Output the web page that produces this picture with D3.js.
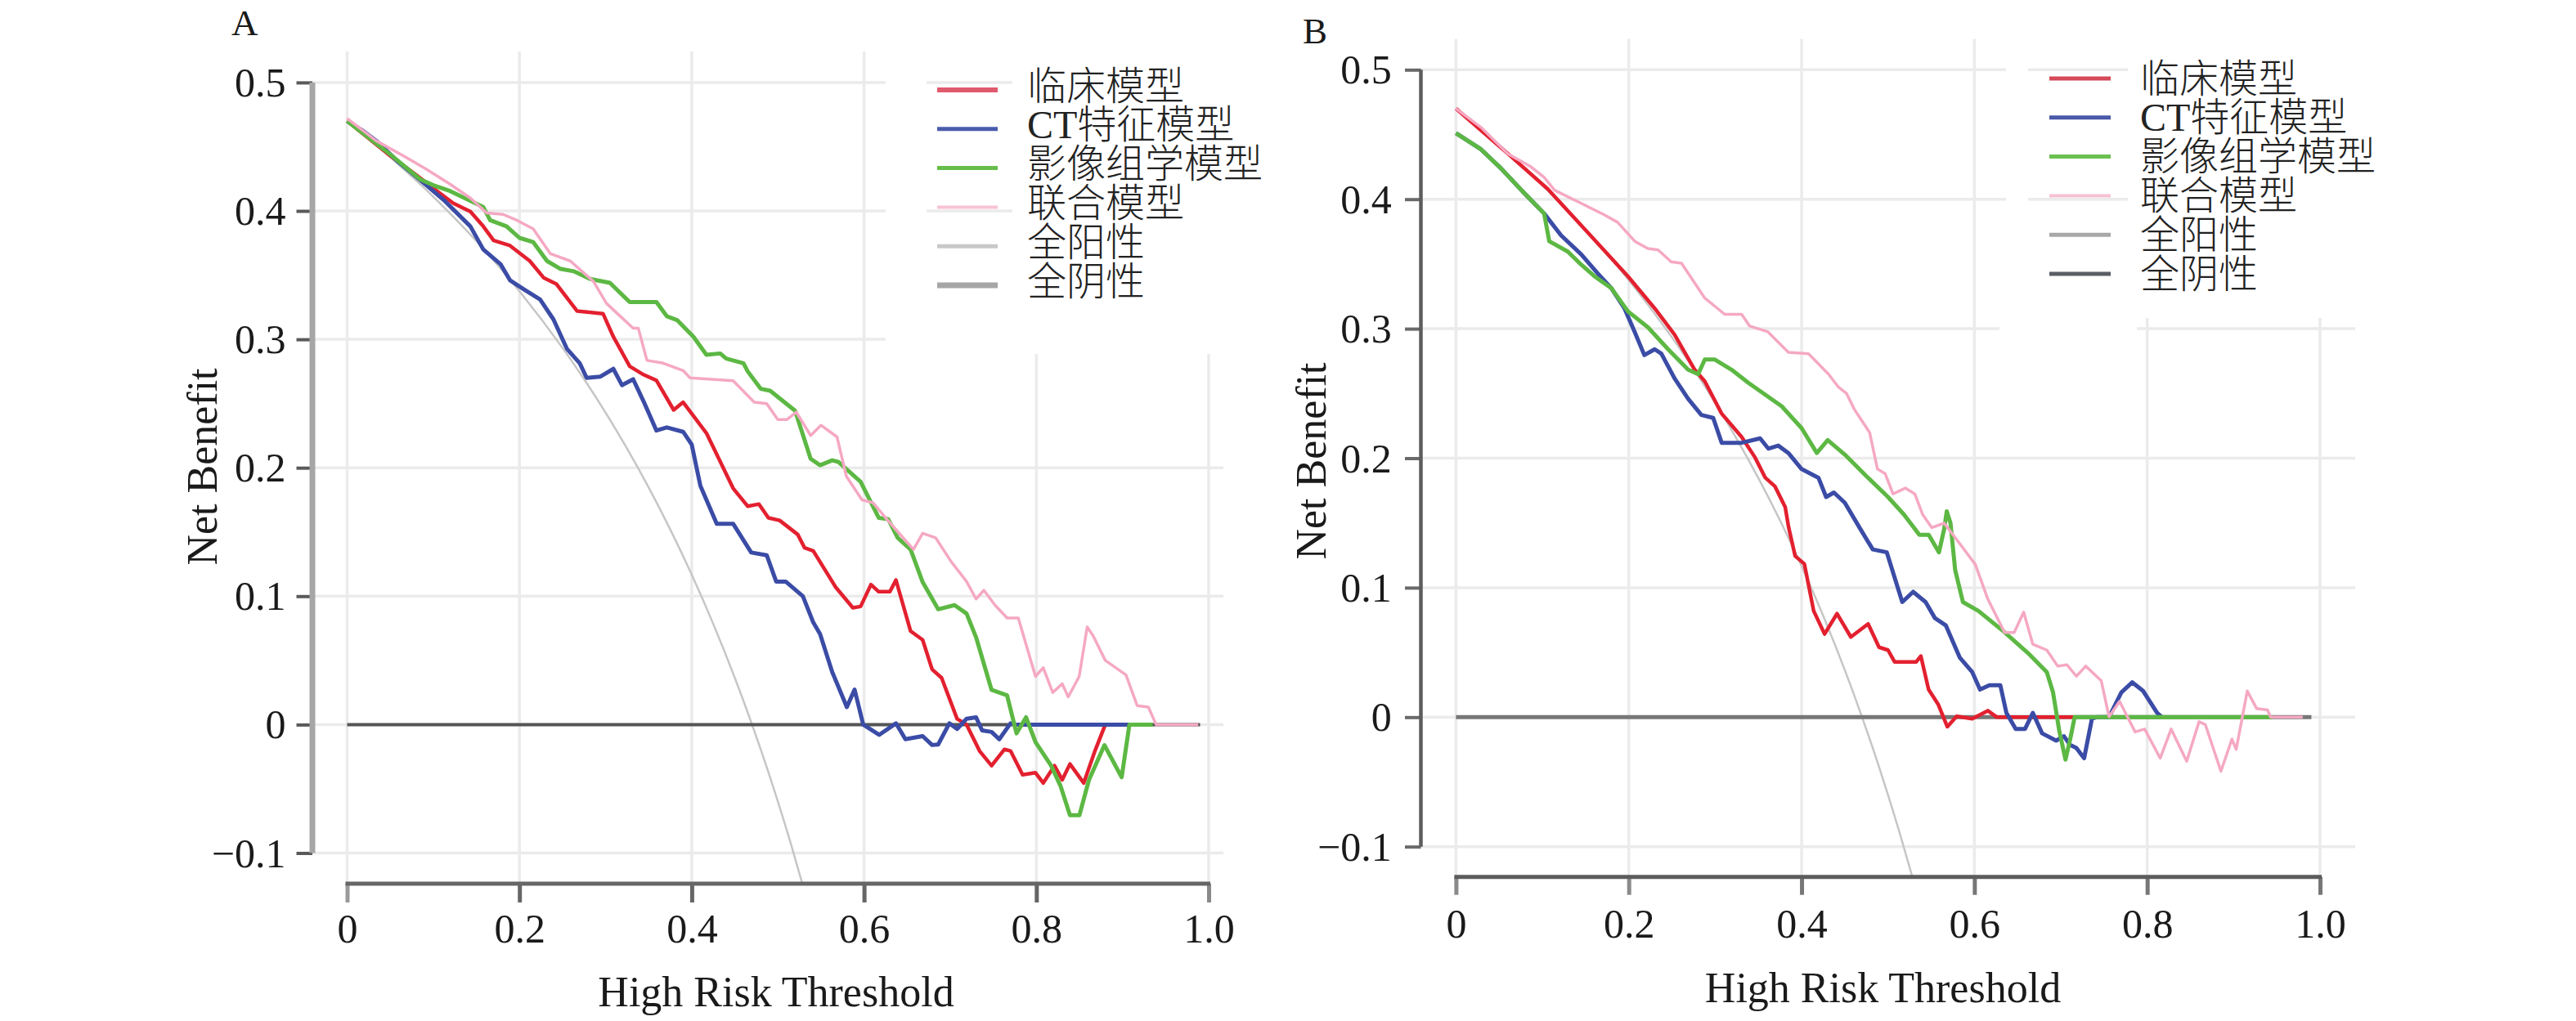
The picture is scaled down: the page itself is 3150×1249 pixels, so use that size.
<!DOCTYPE html>
<html><head><meta charset="utf-8">
<script src="https://cdnjs.cloudflare.com/ajax/libs/d3/7.8.5/d3.min.js"></script>
<style>html,body{margin:0;padding:0;background:#fff;} svg{display:block;}</style>
</head><body><svg id="chart" width="3150" height="1249"></svg>
<script>
// ---------- data ----------
const seriesNames = ["临床模型","CT特征模型","影像组学模型","联合模型","全阳性","全阴性"];
const xTickValues = [0,0.2,0.4,0.6,0.8,1.0];
const xTickLabels = ["0","0.2","0.4","0.6","0.8","1.0"];
const yTickValues = [-0.1,0,0.1,0.2,0.3,0.4,0.5];
const yTickLabels = ["\u22120.1","0","0.1","0.2","0.3","0.4","0.5"];
const xTitle = "High Risk Threshold";
const yTitle = "Net Benefit";
const panelLabels = ["A","B"];

// treat all (全阳性), same in both panels
const treatAll = [[0,0.470],[0.05,0.442],[0.10,0.411],[0.15,0.3765],[0.20,0.3375],[0.25,0.2933],[0.275,0.269],[0.30,0.2429],[0.325,0.2148],[0.35,0.1846],[0.375,0.152],[0.40,0.1167],[0.425,0.0783],[0.45,0.0364],[0.47,0],[0.49,-0.0392],[0.50,-0.060],[0.515,-0.0928],[0.528,-0.123]];
// treat none (全阴性)
const treatNone = [[0,0],[0.99,0]];

// Panel A
const aClinical = [[0,0.470],[0.05,0.443],[0.092,0.422],[0.100,0.4177],[0.123,0.406],[0.143,0.3995],[0.158,0.388],[0.170,0.377],[0.189,0.373],[0.212,0.361],[0.228,0.348],[0.243,0.343],[0.267,0.322],[0.297,0.320],[0.309,0.302],[0.328,0.279],[0.344,0.2725],[0.359,0.268],[0.379,0.245],[0.390,0.251],[0.417,0.227],[0.448,0.184],[0.465,0.170],[0.478,0.1717],[0.489,0.161],[0.502,0.159],[0.523,0.148],[0.531,0.1376],[0.541,0.1353],[0.567,0.107],[0.587,0.091],[0.596,0.092],[0.608,0.109],[0.617,0.1035],[0.630,0.1035],[0.637,0.1126],[0.654,0.0728],[0.668,0.066],[0.679,0.043],[0.690,0.0364],[0.708,0.0045],[0.719,0],[0.734,-0.0205],[0.748,-0.032],[0.763,-0.0193],[0.770,-0.0205],[0.784,-0.039],[0.799,-0.0375],[0.808,-0.0455],[0.821,-0.032],[0.830,-0.043],[0.839,-0.0307],[0.855,-0.0455],[0.868,-0.0205],[0.880,0]];
const aCT = [[0,0.470],[0.017,0.463],[0.034,0.4545],[0.058,0.439],[0.092,0.420],[0.112,0.4086],[0.143,0.388],[0.158,0.370],[0.178,0.3586],[0.189,0.346],[0.205,0.339],[0.224,0.331],[0.2395,0.3155],[0.255,0.2927],[0.270,0.2814],[0.278,0.270],[0.294,0.271],[0.309,0.277],[0.319,0.2643],[0.332,0.2689],[0.344,0.2518],[0.359,0.229],[0.371,0.2314],[0.390,0.228],[0.400,0.218],[0.410,0.186],[0.429,0.1564],[0.448,0.1564],[0.469,0.134],[0.487,0.1319],[0.498,0.1114],[0.509,0.1114],[0.529,0.100],[0.541,0.0796],[0.549,0.0705],[0.563,0.041],[0.580,0.0136],[0.589,0.0273],[0.599,0],[0.6175,-0.008],[0.637,0.001],[0.648,-0.0114],[0.668,-0.009],[0.679,-0.0159],[0.686,-0.0155],[0.699,0.001],[0.708,-0.0034],[0.719,0.0045],[0.730,0.0057],[0.737,-0.0045],[0.748,-0.0057],[0.757,-0.0114],[0.770,0.001],[0.775,0],[0.907,0]];
const aRadiomics = [[0,0.470],[0.05,0.444],[0.085,0.4245],[0.100,0.420],[0.1195,0.4155],[0.158,0.403],[0.166,0.3927],[0.185,0.388],[0.200,0.379],[0.216,0.3757],[0.232,0.361],[0.247,0.355],[0.263,0.353],[0.282,0.347],[0.305,0.344],[0.328,0.329],[0.359,0.329],[0.371,0.318],[0.383,0.315],[0.402,0.302],[0.417,0.288],[0.433,0.289],[0.440,0.285],[0.460,0.2814],[0.465,0.275],[0.480,0.2615],[0.491,0.260],[0.520,0.2444],[0.538,0.207],[0.549,0.202],[0.563,0.2058],[0.570,0.2046],[0.596,0.189],[0.617,0.161],[0.628,0.160],[0.639,0.1455],[0.654,0.1364],[0.668,0.111],[0.686,0.0898],[0.705,0.093],[0.719,0.0864],[0.730,0.068],[0.748,0.027],[0.766,0.0228],[0.777,-0.0068],[0.788,0.0057],[0.799,-0.0136],[0.817,-0.0318],[0.828,-0.0477],[0.839,-0.0705],[0.850,-0.0705],[0.861,-0.0432],[0.879,-0.016],[0.899,-0.041],[0.908,0],[0.935,0]];
const aCombined = [[0,0.472],[0.034,0.4545],[0.065,0.443],[0.092,0.4325],[0.119,0.421],[0.143,0.410],[0.162,0.3984],[0.181,0.3973],[0.197,0.3927],[0.216,0.386],[0.236,0.3666],[0.259,0.361],[0.286,0.345],[0.301,0.328],[0.332,0.3086],[0.338,0.3086],[0.348,0.2836],[0.367,0.2814],[0.390,0.2757],[0.398,0.270],[0.448,0.2677],[0.4725,0.251],[0.487,0.250],[0.4997,0.2376],[0.5106,0.2376],[0.5214,0.2433],[0.538,0.2251],[0.550,0.2331],[0.5686,0.224],[0.5795,0.1933],[0.5976,0.175],[0.6103,0.1728],[0.625,0.161],[0.6393,0.150],[0.6574,0.1364],[0.668,0.149],[0.683,0.1455],[0.701,0.127],[0.719,0.1114],[0.730,0.0978],[0.739,0.1046],[0.752,0.093],[0.766,0.083],[0.779,0.083],[0.799,0.0375],[0.808,0.0443],[0.819,0.025],[0.830,0.0318],[0.837,0.0216],[0.8497,0.0375],[0.859,0.076],[0.866,0.069],[0.880,0.050],[0.904,0.0387],[0.917,0.0148],[0.930,0.0136],[0.939,0],[0.988,0]];

// Panel B
const bClinical = [[0,0.470],[0.0637,0.433],[0.106,0.408],[0.1526,0.3743],[0.199,0.3405],[0.230,0.3157],[0.253,0.2954],[0.2763,0.2683],[0.288,0.2593],[0.3074,0.2345],[0.3306,0.2164],[0.346,0.2007],[0.358,0.1849],[0.3693,0.1781],[0.381,0.1623],[0.385,0.1466],[0.3925,0.1245],[0.4032,0.1183],[0.414,0.082],[0.4266,0.0642],[0.441,0.0799],[0.457,0.0619],[0.477,0.072],[0.4896,0.054],[0.500,0.0518],[0.5076,0.0427],[0.5327,0.0427],[0.538,0.0472],[0.547,0.0213],[0.558,0.010],[0.5687,-0.0074],[0.5795,0.0006],[0.5975,-0.0012],[0.6155,0.005],[0.626,0],[0.716,0]];
const bCT = [[0,0.451],[0.029,0.4385],[0.052,0.4239],[0.079,0.4047],[0.102,0.389],[0.1217,0.372],[0.1449,0.3574],[0.164,0.3427],[0.1797,0.3314],[0.195,0.3157],[0.2068,0.2976],[0.218,0.2796],[0.230,0.2841],[0.2377,0.2807],[0.253,0.2616],[0.2687,0.2458],[0.284,0.2334],[0.2977,0.2311],[0.3075,0.2119],[0.3306,0.2119],[0.352,0.2153],[0.3615,0.2074],[0.373,0.2097],[0.3847,0.204],[0.400,0.1916],[0.4195,0.1849],[0.4284,0.170],[0.4374,0.1735],[0.450,0.1656],[0.468,0.1453],[0.4824,0.1295],[0.4986,0.1273],[0.5165,0.0889],[0.5291,0.0968],[0.5435,0.0889],[0.5543,0.0765],[0.567,0.0708],[0.583,0.0461],[0.5975,0.0348],[0.6065,0.0213],[0.6173,0.0247],[0.630,0.0247],[0.637,0.0033],[0.6478,-0.0091],[0.6586,-0.0091],[0.6676,0.0033],[0.6784,-0.0125],[0.6946,-0.0181],[0.7036,-0.0147],[0.7108,-0.0215],[0.718,-0.0238],[0.727,-0.0317],[0.736,-0.0012],[0.7414,0],[0.7558,0],[0.770,0.0191],[0.7827,0.0269],[0.7953,0.0202],[0.8115,0.0033],[0.817,0]];
const bRadiomics = [[0,0.451],[0.029,0.4385],[0.052,0.4239],[0.079,0.4047],[0.102,0.389],[0.108,0.3675],[0.1294,0.3596],[0.1449,0.3495],[0.1603,0.3405],[0.1797,0.3314],[0.199,0.3134],[0.2223,0.301],[0.2455,0.2841],[0.2687,0.2683],[0.2803,0.2649],[0.288,0.2762],[0.2996,0.2762],[0.319,0.2683],[0.3383,0.2582],[0.377,0.2401],[0.400,0.2232],[0.4176,0.204],[0.4302,0.214],[0.450,0.2028],[0.4752,0.186],[0.500,0.170],[0.5183,0.1566],[0.5363,0.1408],[0.5471,0.1408],[0.559,0.1273],[0.565,0.1453],[0.568,0.159],[0.5723,0.150],[0.5777,0.1138],[0.5867,0.0889],[0.6047,0.082],[0.6335,0.0664],[0.6622,0.0494],[0.6838,0.0348],[0.691,0.0191],[0.6982,-0.0105],[0.7054,-0.0328],[0.7108,-0.0172],[0.716,0],[0.945,0]];
const bCombined = [[0,0.470],[0.029,0.4555],[0.0598,0.4352],[0.0868,0.425],[0.102,0.417],[0.114,0.407],[0.145,0.3968],[0.172,0.3878],[0.187,0.3822],[0.207,0.3675],[0.222,0.3619],[0.234,0.3608],[0.249,0.3517],[0.261,0.3506],[0.288,0.3236],[0.311,0.3111],[0.3306,0.3111],[0.340,0.302],[0.361,0.2976],[0.3847,0.2818],[0.408,0.2807],[0.431,0.265],[0.4428,0.2548],[0.452,0.250],[0.461,0.2378],[0.4788,0.2197],[0.4878,0.1916],[0.4968,0.188],[0.5058,0.1724],[0.520,0.1769],[0.531,0.1724],[0.540,0.1566],[0.5507,0.1464],[0.565,0.1498],[0.583,0.134],[0.601,0.118],[0.6155,0.0912],[0.635,0.0653],[0.646,0.0653],[0.657,0.0811],[0.6676,0.0563],[0.6838,0.0518],[0.6964,0.0394],[0.707,0.0405],[0.718,0.0316],[0.7288,0.0394],[0.7468,0.0281],[0.7558,0.0004],[0.768,0.0122],[0.786,-0.0114],[0.797,-0.0092],[0.815,-0.0317],[0.8277,-0.0092],[0.8457,-0.034],[0.860,-0.0035],[0.8673,-0.0058],[0.8853,-0.0418],[0.898,-0.017],[0.903,-0.0249],[0.9158,0.0202],[0.9266,0.0067],[0.9392,0.0056],[0.9428,0],[0.98,0]];

// ---------- layout / style ----------
const SERIF = "'Liberation Serif','Times New Roman',serif";
const CJK = "'Liberation Serif','Noto Sans CJK SC','Noto Sans CJK JP',sans-serif";
const lineColors = ["#e3202f","#3b4ca6","#5cb843","#f5a8c3"];
const lineWidths = [4.5,5,5,3.5];

const panels = [
  { label:panelLabels[0], labelX:283, labelY:43,
    series:[aClinical,aCT,aRadiomics,aCombined],
    x0:424.5, x1:1478, yZero:886.4, yHalf:100.9, top:63, axisY:1081, gridRight:1496, yAxisX:382,
    yAxisColor:"#a6a6a6", yAxisWidth:7, yTickColor:"#5a5a5a", yTickLen:19.5,
    xAxisColor:"#666", xAxisWidth:5, xTickColors:["#9a9a9a","#666","#666","#666","#666","#8a8a8a"], xTickLen:23, xPad:13,
    zeroColor:"#555", zeroWidth:4,
    yLabelRight:349.5, yTitleX:265, yTitleY:571, xTitleX:949, xTitleY:1231,
    legX1:1146, legX2:1220, legTextX:1256, legY0:110, legStep:47.8, legTextDy:-5,
    legColors:["#e05a6e","#4a5bab","#66bd4c","#f7c3d3","#c8c8c8","#a6a6a6"], legWidths:[6,5,5,4,5,7],
    whiteRects:[[1083,55,430,378]], frags:[[1133,1238]] },
  { label:panelLabels[1], labelX:1593, labelY:53,
    series:[bClinical,bCT,bRadiomics,bCombined],
    x0:1780.4, x1:2837, yZero:877.3, yHalf:85.3, top:47.4, axisY:1072.7, gridRight:2880, yAxisX:1737.5,
    yAxisColor:"#5c5c5c", yAxisWidth:4.5, yTickColor:"#6a6a6a", yTickLen:19.5,
    xAxisColor:"#5c5c5c", xAxisWidth:5, xTickColors:["#8a8a8a","#8a8a8a","#777","#777","#777","#777"], xTickLen:22, xPad:16.8,
    zeroColor:"#777", zeroWidth:5,
    yLabelRight:1701.8, yTitleX:1621, yTitleY:564, xTitleX:2302.5, xTitleY:1226,
    legX1:2506, legX2:2581, legTextX:2617, legY0:96, legStep:47.8, legTextDy:0,
    legColors:["#d44a5a","#4a58a8","#6cc050","#f6c0d2","#a8a8a8","#5a5f66"], legWidths:[5,5,5,4,5,5],
    whiteRects:[[2453,40,440,349],[2445,389,168,22]], frags:[[2480,2602]] }
];

const svg = d3.select("#chart");
svg.append("rect").attr("width",3150).attr("height",1249).attr("fill","#fff");

panels.forEach(p => {
  const x = d3.scaleLinear().domain([0,1]).range([p.x0,p.x1]);
  const y = d3.scaleLinear().domain([0,0.5]).range([p.yZero,p.yHalf]);
  const g = svg.append("g");
  const grid = "#ebebeb", gw = 3.5;

  // gridlines
  g.selectAll(".vg").data(xTickValues).enter().append("line")
    .attr("x1",d=>x(d)).attr("x2",d=>x(d)).attr("y1",p.top).attr("y2",p.axisY)
    .attr("stroke",grid).attr("stroke-width",gw);
  g.selectAll(".hg").data(yTickValues).enter().append("line")
    .attr("x1",p.yAxisX).attr("x2",p.gridRight).attr("y1",d=>y(d)).attr("y2",d=>y(d))
    .attr("stroke",grid).attr("stroke-width",gw);

  // legend background
  p.whiteRects.forEach(r => g.append("rect").attr("x",r[0]).attr("y",r[1]).attr("width",r[2]).attr("height",r[3]).attr("fill","#fff"));
  p.frags.forEach(f => [0.5,0.4].forEach(v => g.append("line")
    .attr("x1",f[0]).attr("x2",f[1]).attr("y1",y(v)).attr("y2",y(v)).attr("stroke",grid).attr("stroke-width",gw)));

  const line = d3.line().x(d=>x(d[0])).y(d=>y(d[1]));
  const smooth = d3.line().x(d=>x(d[0])).y(d=>y(d[1])).curve(d3.curveMonotoneX);

  g.append("path").attr("d",smooth(treatAll)).attr("fill","none").attr("stroke","#c6c6c6").attr("stroke-width",2.5);
  g.append("path").attr("d",line(treatNone)).attr("fill","none").attr("stroke",p.zeroColor).attr("stroke-width",p.zeroWidth);
  p.series.forEach((s,i) => {
    g.append("path").attr("d",line(s)).attr("fill","none")
      .attr("stroke",lineColors[i]).attr("stroke-width",lineWidths[i])
      .attr("stroke-linejoin","round").attr("stroke-linecap","butt");
  });

  // y axis
  const yAxis = d3.axisLeft(y).tickValues(yTickValues)
    .tickFormat(d => yTickLabels[yTickValues.indexOf(d)])
    .tickSize(p.yTickLen).tickSizeOuter(0)
    .tickPadding(p.yAxisX - p.yLabelRight - p.yTickLen);
  const gy = g.append("g").attr("transform",`translate(${p.yAxisX},0)`).call(yAxis);
  gy.select(".domain").remove();
  gy.selectAll(".tick line").attr("stroke",p.yTickColor).attr("stroke-width",4);
  gy.selectAll(".tick text").attr("font-family",SERIF).attr("font-size",50).attr("fill","#1a1a1a").attr("dy","0.33em");
  g.append("line").attr("x1",p.yAxisX).attr("x2",p.yAxisX).attr("y1",y(0.5)).attr("y2",y(-0.1))
    .attr("stroke",p.yAxisColor).attr("stroke-width",p.yAxisWidth);

  // x axis
  const xAxis = d3.axisBottom(x).tickValues(xTickValues)
    .tickFormat(d => xTickLabels[xTickValues.indexOf(d)])
    .tickSize(p.xTickLen).tickSizeOuter(0).tickPadding(p.xPad);
  const gx = g.append("g").attr("transform",`translate(0,${p.axisY})`).call(xAxis);
  gx.select(".domain").remove();
  gx.selectAll(".tick line").attr("stroke",(d,i)=>p.xTickColors[i]).attr("stroke-width",5);
  gx.selectAll(".tick text").attr("font-family",SERIF).attr("font-size",50).attr("fill","#1a1a1a");
  g.append("line").attr("x1",x(0)-2).attr("x2",x(1)+2).attr("y1",p.axisY).attr("y2",p.axisY)
    .attr("stroke",p.xAxisColor).attr("stroke-width",p.xAxisWidth);

  // titles
  g.append("text").attr("x",p.xTitleX).attr("y",p.xTitleY).attr("text-anchor","middle")
    .attr("font-family",SERIF).attr("font-size",52).attr("fill","#1a1a1a").text(xTitle);
  g.append("text").attr("transform",`translate(${p.yTitleX},${p.yTitleY}) rotate(-90)`).attr("text-anchor","middle")
    .attr("font-family",SERIF).attr("font-size",52).attr("fill","#1a1a1a").text(yTitle);
  g.append("text").attr("x",p.labelX).attr("y",p.labelY)
    .attr("font-family",SERIF).attr("font-size",45).attr("fill","#1a1a1a").text(p.label);

  // legend
  seriesNames.forEach((nm,i) => {
    const ly = p.legY0 + i*p.legStep;
    g.append("line").attr("x1",p.legX1).attr("x2",p.legX2).attr("y1",ly).attr("y2",ly)
      .attr("stroke",p.legColors[i]).attr("stroke-width",p.legWidths[i]);
    g.append("text").attr("x",p.legTextX).attr("y",ly + p.legTextDy).attr("dominant-baseline","central")
      .attr("font-family",CJK).attr("font-size",48).attr("font-weight",300).attr("fill","#222").text(nm);
  });
});
</script>
</body></html>
